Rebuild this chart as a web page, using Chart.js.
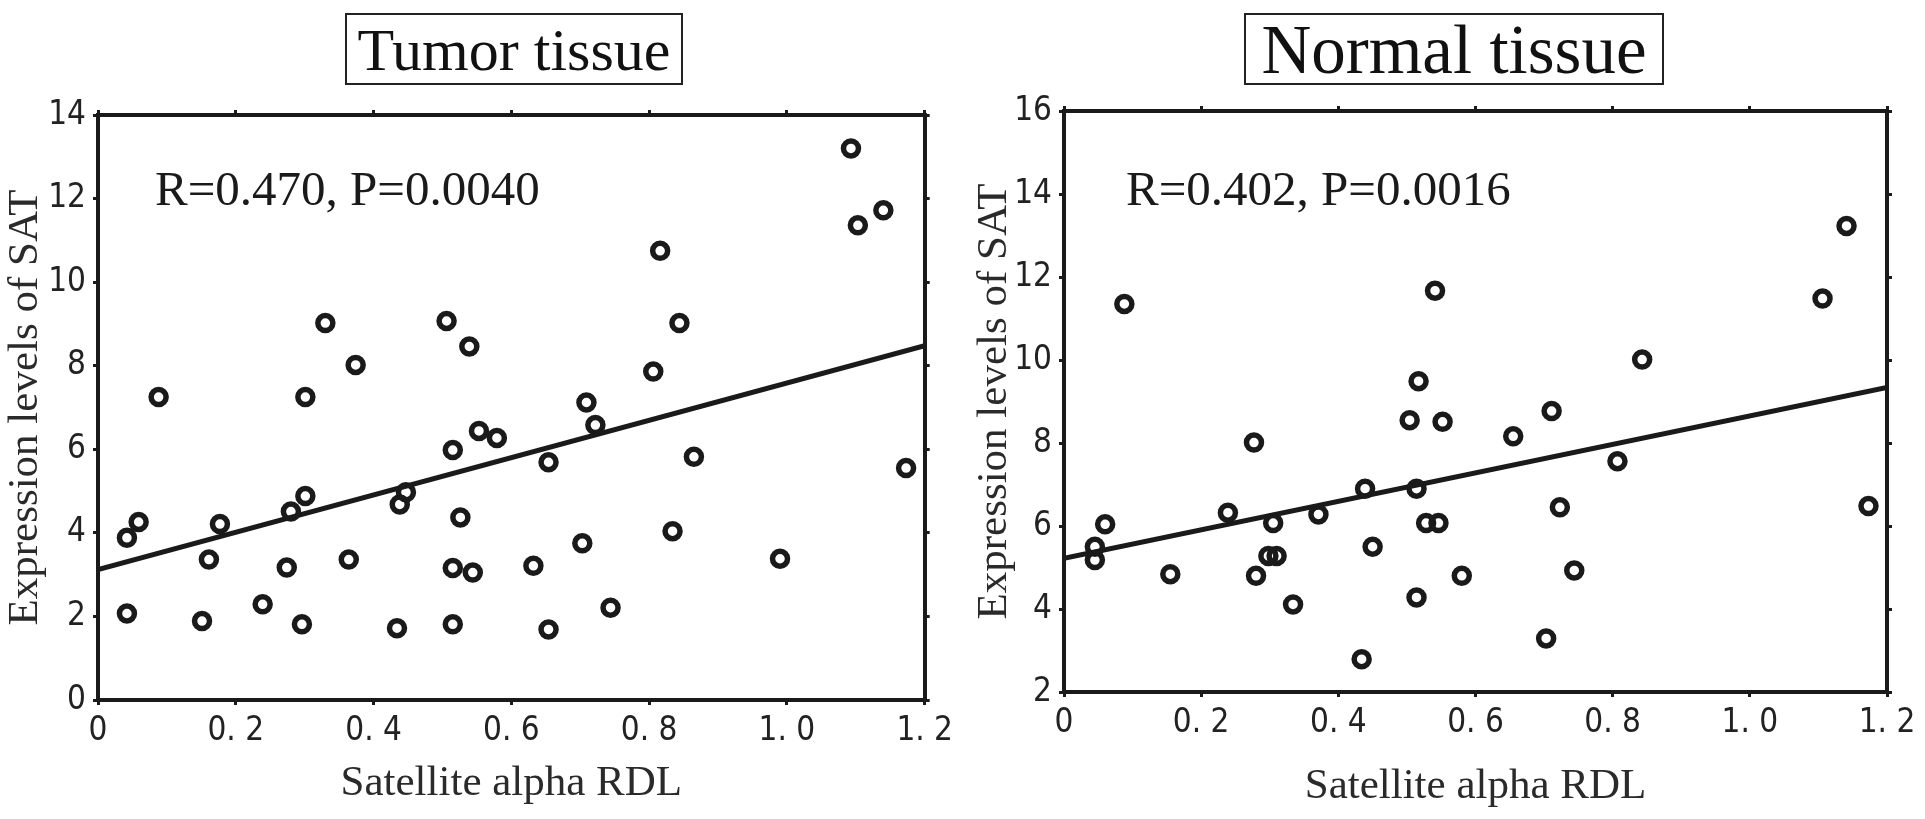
<!DOCTYPE html>
<html lang="en">
<head>
<meta charset="UTF-8">
<title>SAT expression vs satellite alpha RDL</title>
<script src="https://cdn.jsdelivr.net/npm/chart.js@4.4.1/dist/chart.umd.min.js"></script>
<style>
  body { margin: 0; background: #fff; width: 1925px; height: 819px; overflow: hidden; position: relative; }
  canvas { position: absolute; top: 0; }
  #tumorChart { left: 0; }
  #normalChart { left: 960px; }
  .panel-title {
    position: absolute; box-sizing: border-box; border: 2px solid #222;
    text-align: center; color: #111; white-space: nowrap;
    font-family: "Liberation Serif", "Times New Roman", serif;
  }
  #tumorTitle { left: 345px; top: 13px; width: 338px; height: 72px; font-size: 60px; line-height: 70px; }
  #normalTitle { left: 1244px; top: 13px; width: 420px; height: 72px; font-size: 69px; line-height: 70px; }
</style>
</head>
<body>
<div class="panel-title" id="tumorTitle">Tumor tissue</div>
<div class="panel-title" id="normalTitle">Normal tissue</div>
<canvas id="tumorChart" width="960" height="819"></canvas>
<canvas id="normalChart" width="965" height="819"></canvas>
<script>
// values
const xTickLabels = ['0', '0. 2', '0. 4', '0. 6', '0. 8', '1. 0', '1. 2'];

const tumorRdl = [0.042, 0.059, 0.042, 0.088, 0.151, 0.161, 0.177, 0.239, 0.274, 0.280,
                  0.296, 0.301, 0.301, 0.330, 0.364, 0.374, 0.434, 0.438, 0.447, 0.506,
                  0.515, 0.515, 0.515, 0.526, 0.539, 0.544, 0.553, 0.579, 0.632, 0.654,
                  0.654, 0.703, 0.709, 0.722, 0.744, 0.806, 0.816, 0.834, 0.844, 0.865,
                  0.990, 1.093, 1.103, 1.140, 1.173];
const tumorSat = [3.88, 4.26, 2.07, 7.25, 1.89, 3.36, 4.21, 2.29, 3.17, 4.51,
                  1.81, 4.88, 7.25, 9.02, 3.36, 8.02, 1.72, 4.68, 4.97, 9.07,
                  5.98, 3.16, 1.81, 4.37, 8.46, 3.05, 6.44, 6.27, 3.21, 5.69,
                  1.69, 3.75, 7.12, 6.58, 2.21, 7.86, 10.75, 4.04, 9.02, 5.82,
                  3.38, 13.20, 11.36, 11.72, 5.55];
const tumorFitRdl = [0, 1.2];
const tumorFitSat = [3.12, 8.48];

const normalRdl = [0.088, 0.541, 0.517, 1.141, 1.106, 0.843, 0.504, 0.552, 0.277, 0.439,
                   0.514, 0.060, 0.239, 0.305, 0.371, 0.528, 0.546, 0.045, 0.045, 0.450,
                   0.155, 0.280, 0.298, 0.310, 0.334, 0.514, 0.580, 0.434, 0.711, 0.655,
                   0.807, 0.723, 1.173, 0.744, 0.703];
const normalSat = [11.35, 11.67, 9.49, 13.23, 11.48, 10.01, 8.55, 8.51, 8.01, 6.90,
                   6.90, 6.04, 6.32, 6.07, 6.28, 6.07, 6.07, 5.50, 5.18, 5.50,
                   4.84, 4.80, 5.28, 5.28, 4.11, 4.28, 4.80, 2.79, 8.77, 8.16,
                   7.56, 6.45, 6.48, 4.93, 3.29];
const normalFitRdl = [0, 1.2];
const normalFitSat = [5.22, 9.34];

const ink = '#1a1a1a';
const serif = '"Liberation Serif", "Times New Roman", serif';
const narrow = '"Liberation Sans Narrow", "DejaVu Sans Condensed", sans-serif';

// draws the R / P text inside the plot
const statLabel = {
  id: 'statLabel',
  afterDatasetsDraw(chart, args, opts) {
    const { ctx, chartArea } = chart;
    ctx.save();
    ctx.font = '49px ' + serif;
    ctx.fillStyle = ink;
    ctx.textBaseline = 'alphabetic';
    ctx.fillText(opts.text, chartArea.left + opts.dx, chartArea.top + opts.dy);
    ctx.restore();
  }
};

const toPoints = (xs, ys) => xs.map((x, i) => ({ x: x, y: ys[i] }));

function makePanel(id, xs, ys, fitX, fitY, yMin, yMax, stat, box) {
  const frame = { display: true, color: ink, width: 4 };
  const marks = { drawOnChartArea: false, drawTicks: true, tickLength: 5, lineWidth: 3, tickColor: ink };
  const tickFont = { family: narrow, size: 33 };

  return new Chart(document.getElementById(id), {
    data: {
      datasets: [{
        type: 'scatter',
        data: toPoints(xs, ys),
        pointStyle: 'circle',
        pointRadius: 7.5,
        pointBorderWidth: 5.5,
        borderColor: ink,
        backgroundColor: 'rgba(0,0,0,0)',
        clip: false
      }, {
        type: 'line',
        data: toPoints(fitX, fitY),
        borderColor: ink,
        borderWidth: 5,
        pointRadius: 0,
        fill: false
      }]
    },
    options: {
      responsive: false,
      animation: false,
      events: [],
      layout: { padding: 0 },
      plugins: {
        legend: { display: false },
        tooltip: { enabled: false },
        statLabel: stat
      },
      scales: {
        x: {
          type: 'linear', position: 'bottom', min: 0, max: 1.2,
          border: frame, grid: marks,
          ticks: {
            stepSize: 0.2, autoSkip: false, maxRotation: 0, padding: 7,
            color: '#222', font: tickFont,
            callback: (v, i) => xTickLabels[i]
          },
          title: {
            display: true, text: 'Satellite alpha RDL', color: '#2a2a2a',
            font: { family: serif, size: 43 }, padding: { top: 0, bottom: box.xTitleGap }
          },
          afterFit: s => { s.height = box.bottom; }
        },
        x2: {
          type: 'linear', position: 'top', min: 0, max: 1.2,
          border: frame, grid: marks,
          ticks: { display: false, stepSize: 0.2 },
          afterFit: s => { s.height = box.top; }
        },
        y: {
          type: 'linear', position: 'left', min: yMin, max: yMax,
          border: frame, grid: marks,
          ticks: { stepSize: 2, padding: 7, color: '#222', font: tickFont },
          title: {
            display: true, text: 'Expression levels of SAT', color: '#2a2a2a',
            font: { family: serif, size: 43 }, padding: { top: box.yTitleGap, bottom: 0 }
          },
          afterFit: s => { s.width = box.left; }
        },
        y2: {
          type: 'linear', position: 'right', min: yMin, max: yMax,
          border: frame, grid: marks,
          ticks: { display: false, stepSize: 2 },
          afterFit: s => { s.width = box.right; }
        }
      }
    },
    plugins: [statLabel]
  });
}

makePanel('tumorChart', tumorRdl, tumorSat, tumorFitRdl, tumorFitSat, 0, 14,
  { text: 'R=0.470, P=0.0040', dx: 57, dy: 90 },
  { left: 98, right: 35, top: 115, bottom: 119, yTitleGap: 0, xTitleGap: 9 });

makePanel('normalChart', normalRdl, normalSat, normalFitRdl, normalFitSat, 2, 16,
  { text: 'R=0.402, P=0.0016', dx: 62, dy: 94 },
  { left: 104, right: 38, top: 111, bottom: 127, yTitleGap: 9, xTitleGap: 6 });
</script>
</body>
</html>
